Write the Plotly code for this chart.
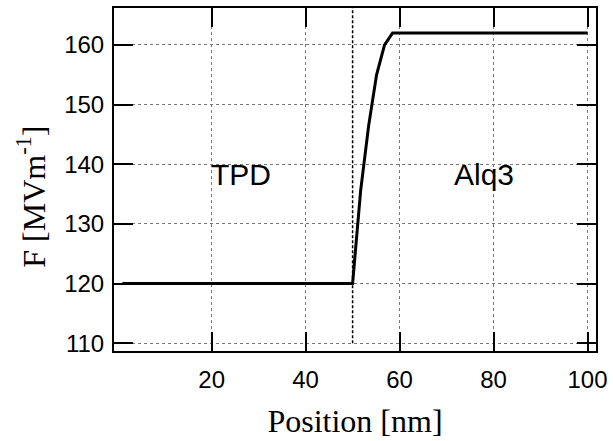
import plotly.graph_objects as go

# Electric field profile across the TPD / Alq3 bilayer
position_nm = [1, 50, 51.7, 53.4, 55.1, 56.8, 58.5, 100]
field_MVm = [120, 120, 135.5, 146.4, 155, 160, 162, 162]

interface_nm = 50
x_ticks = [20, 40, 60, 80, 100]
y_ticks = [110, 120, 130, 140, 150, 160]

layer_labels = ["TPD", "Alq3"]
layer_label_x = [26.3, 77.9]
layer_label_y = [138.3, 138.3]

fig = go.Figure()

# interface marker
fig.add_trace(go.Scatter(
    x=[interface_nm, interface_nm], y=[110, 166.2], mode="lines",
    line=dict(color="black", width=1.5, dash="3px,2px"),
    hoverinfo="skip", showlegend=False))

fig.add_trace(go.Scatter(
    x=position_nm, y=field_MVm, mode="lines",
    line=dict(color="black", width=3), showlegend=False))

for txt, lx, ly in zip(layer_labels, layer_label_x, layer_label_y):
    fig.add_annotation(x=lx, y=ly, text=txt, showarrow=False,
                       font=dict(family="Liberation Sans, Arial", size=30, color="black"))

# rotated y title
fig.add_annotation(xref="paper", yref="paper", x=-0.172, y=0.45,
                   xanchor="center", yanchor="middle", textangle=-90,
                   text="F [MVm<sup>-1</sup>]", showarrow=False,
                   font=dict(family="Liberation Serif, Times New Roman", size=32, color="black"))

axis_common = dict(
    showline=True, linewidth=2, linecolor="black", mirror="ticks",
    ticks="inside", ticklen=19, tickwidth=1.5, tickcolor="black",
    showgrid=True, gridcolor="#777", griddash="dot", gridwidth=1,
    zeroline=False, ticklabeloverflow="allow",
    tickfont=dict(family="Liberation Sans, Arial", size=24, color="black"),
)

fig.update_xaxes(range=[-0.78, 101.8], tickvals=x_ticks, ticklabelstandoff=6,
                 **axis_common,
                 title=dict(text="Position [nm]", standoff=18,
                            font=dict(family="Liberation Serif, Times New Roman", size=32, color="black")))
fig.update_yaxes(range=[108.7, 166.2], tickvals=y_ticks, ticklabelstandoff=3,
                 **axis_common)

fig.update_layout(
    width=613, height=441,
    margin=dict(l=114, r=11, t=6, b=90),
    paper_bgcolor="white", plot_bgcolor="white",
    showlegend=False,
)

fig.write_html("out.html")
